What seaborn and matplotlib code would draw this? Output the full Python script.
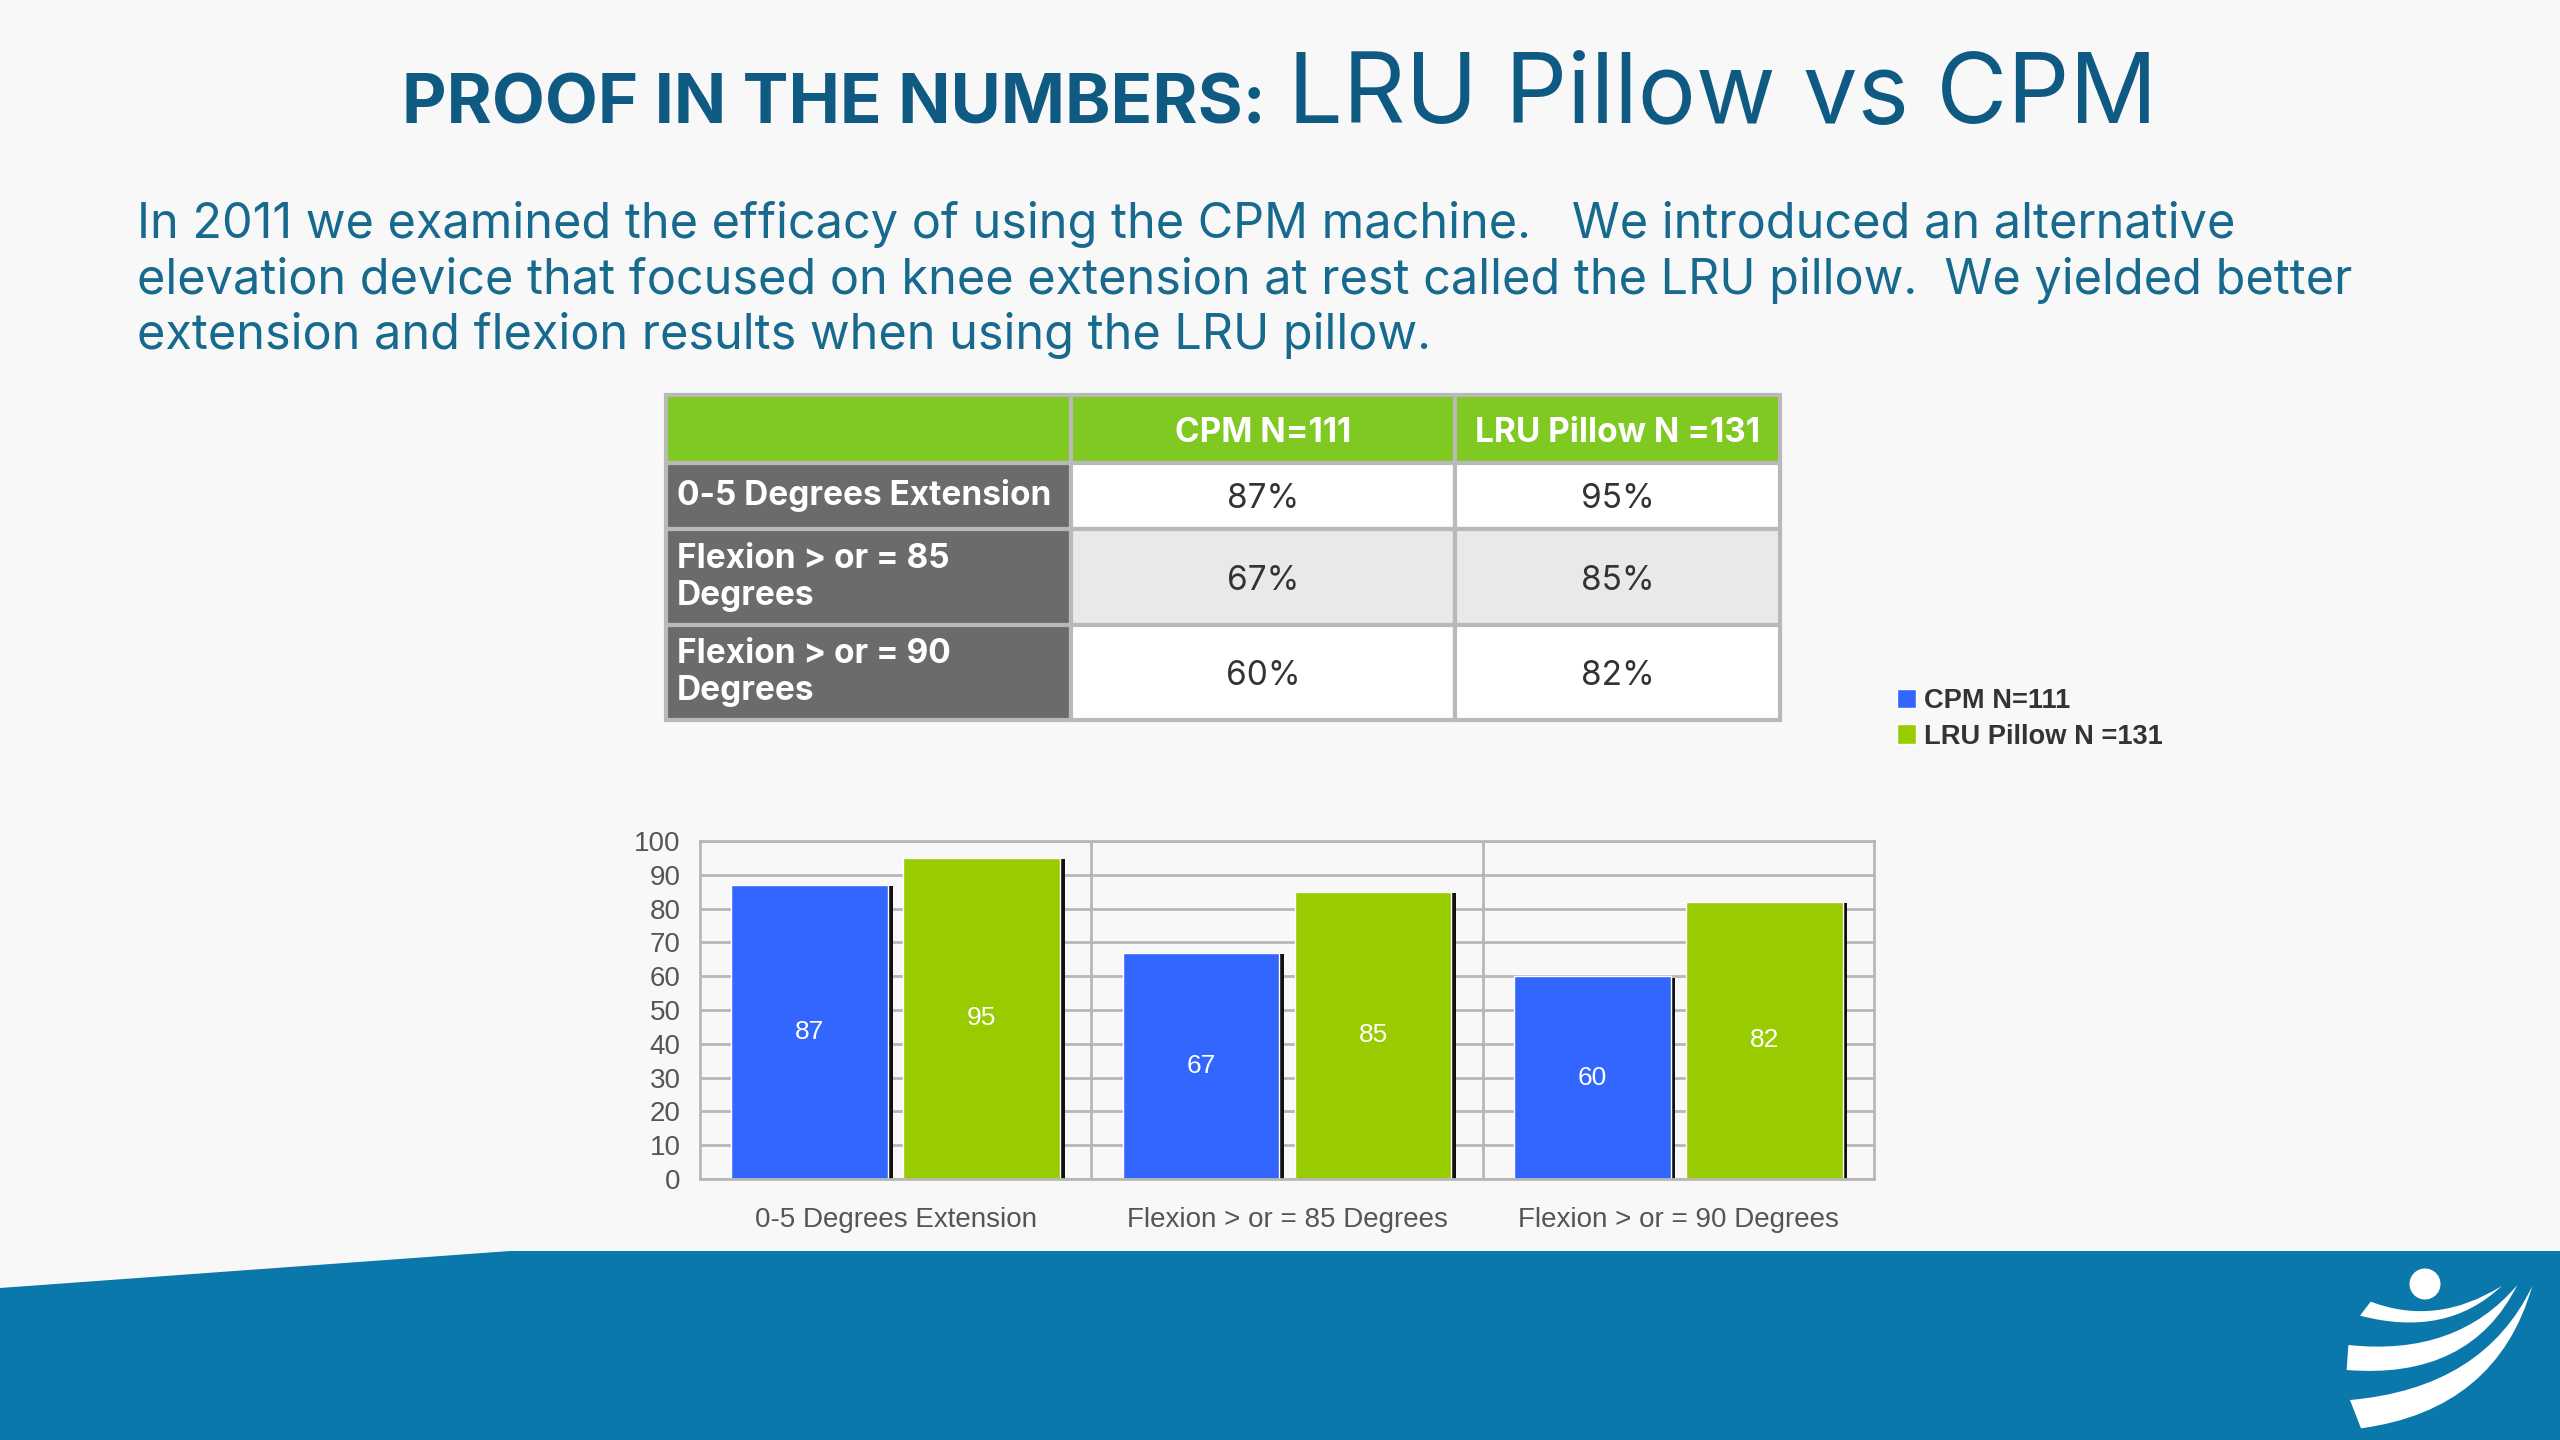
import numpy as np
import pandas as pd
import matplotlib
matplotlib.use('Agg')
import matplotlib.pyplot as plt
import matplotlib.patheffects as pe
from matplotlib.path import Path
from matplotlib.patches import PathPatch, Circle, Polygon
import seaborn as sns

W, H = 2560, 1440
BG = '#f8f8f8'
BAND = '#0a78aa'
TITLE = '#0f5a82'
BODY = '#176a8e'
GRID = '#b7b7b7'

categories = ['0-5 Degrees Extension', 'Flexion > or = 85 Degrees', 'Flexion > or = 90 Degrees']
df = pd.DataFrame({
    'category': categories,
    'CPM N=111': [87, 67, 60],
    'LRU Pillow N =131': [95, 85, 82],
})
long_df = df.melt(id_vars='category', var_name='group', value_name='pct')

sns.set_theme(style='whitegrid')
plt.rcParams['font.family'] = ['Inter', 'DejaVu Sans']

fig = plt.figure(figsize=(W / 100, H / 100), dpi=100, facecolor=BG)

# slide background in pixel coordinates
bg = fig.add_axes([0, 0, 1, 1], zorder=0)
bg.set_xlim(0, W)
bg.set_ylim(H, 0)
bg.axis('off')
bg.add_patch(Polygon([(0, 1288), (510, 1251), (W, 1251), (W, H), (0, H)], color=BAND, lw=0))

bg.text(402, 124, 'PROOF IN THE NUMBERS:', fontsize=49.6, fontweight='bold', color=TITLE, va='baseline')
bg.text(1288, 123, 'LRU Pillow vs CPM', fontsize=70, color=TITLE, va='baseline')

body = ['In 2011 we examined the efficacy of using the CPM machine.   We introduced an alternative',
        'elevation device that focused on knee extension at rest called the LRU pillow.  We yielded better',
        'extension and flexion results when using the LRU pillow.']
for y, line in zip([238, 294, 349], body):
    bg.text(137, y, line, fontsize=35, color=BODY, va='baseline')

# logo
bg.add_patch(Circle((2425, 1284), 15.5, color='white', lw=0))


def swoosh(p0, c0, tip, c1, p1):
    verts = [p0, c0, tip, c1, p1, p0]
    codes = [Path.MOVETO, Path.CURVE3, Path.CURVE3, Path.CURVE3, Path.CURVE3, Path.LINETO]
    pts = [(2280 + x / 3, 1220 + y / 3) for x, y in verts]
    bg.add_patch(PathPatch(Path(pts, codes), facecolor='white', lw=0))


swoosh((272, 245), (470, 320), (665, 198), (500, 355), (240, 287))
swoosh((205, 375), (530, 410), (712, 195), (570, 480), (200, 450))
swoosh((210, 540), (610, 505), (757, 198), (650, 570), (243, 625))

# table
rows = [['', 'CPM N=111', 'LRU Pillow N =131'],
        ['0-5 Degrees Extension', '87%', '95%'],
        ['Flexion > or = 85\nDegrees', '67%', '85%'],
        ['Flexion > or = 90\nDegrees', '60%', '82%']]
t_left, t_right, t_top, t_bottom = 666, 1780, 395, 720
col_edges = [666, 1071, 1455, 1780]
row_edges = [395, 463, 529, 625, 720]
tax = fig.add_axes([t_left / W, 1 - t_bottom / H, (t_right - t_left) / W, (t_bottom - t_top) / H], zorder=1)
tax.axis('off')
table = tax.table(cellText=rows, loc='center', bbox=[0, 0, 1, 1])
table.auto_set_font_size(False)
for (r, c), cell in table.get_celld().items():
    cell.set_width((col_edges[c + 1] - col_edges[c]) / (t_right - t_left))
    cell.set_height((row_edges[r + 1] - row_edges[r]) / (t_bottom - t_top))
    cell.set_edgecolor('#b9b9b9')
    cell.set_linewidth(3)
    txt = cell.get_text()
    txt.set_fontsize(24)
    if r == 0:
        cell.set_facecolor('#80c822')
        txt.set_color('white')
        txt.set_fontweight('bold')
        txt.set_ha('center')
        txt.set_va('center_baseline')
    elif c == 0:
        cell.set_facecolor('#6b6b6b')
        txt.set_color('white')
        txt.set_fontweight('bold')
        txt.set_ha('left')
        txt.set_linespacing(1.2)
        cell.PAD = 0.026
    else:
        cell.set_facecolor('#e9e9e9' if r == 2 else 'white')
        txt.set_color('#333333')
        txt.set_ha('center')
        txt.set_va('center_baseline')
        cell.PAD = 0.0

# bar chart
ax_l, ax_r, ax_t, ax_b = 700, 1874, 841, 1179
ax = fig.add_axes([ax_l / W, 1 - ax_b / H, (ax_r - ax_l) / W, (ax_b - ax_t) / H], zorder=2)
ax.patch.set_alpha(0)
sns.barplot(data=long_df, x='category', y='pct', hue='group', palette=['#3366ff', '#99cc00'],
            width=0.88, gap=0.09, saturation=1, ax=ax)
shadow = [pe.SimplePatchShadow(offset=(3.4, -1), shadow_rgbFace='#111111', alpha=1), pe.Normal()]
for bars in ax.containers:
    for bar in bars:
        bar.set_path_effects(shadow)
    ax.bar_label(bars, label_type='center', color='white', fontsize=19, family='Liberation Sans')

ax.set_xlim(-0.5, 2.5)
ax.set_ylim(0, 100)
ax.set_yticks(range(0, 101, 10))
ax.set_xticks([0.5, 1.5], minor=True)
ax.set_xlabel('')
ax.set_ylabel('')
ax.set_axisbelow(True)
ax.grid(axis='y', color=GRID, lw=2)
ax.grid(axis='x', which='major', visible=False)
ax.grid(axis='x', which='minor', color=GRID, lw=2)
for s in ax.spines.values():
    s.set_color(GRID)
    s.set_linewidth(2)
ax.tick_params(axis='x', which='both', length=0, pad=20)
ax.tick_params(axis='y', length=0, pad=14)
for lab in ax.get_xticklabels() + ax.get_yticklabels():
    lab.set_family('Liberation Sans')
    lab.set_fontsize(20)
    lab.set_color('#555555')

ax.legend(title=None, loc='upper left', frameon=False,
          bbox_to_anchor=((1897 - ax_l) / (ax_r - ax_l), 1 + (ax_t - 688) / (ax_b - ax_t)),
          prop={'family': 'Liberation Sans', 'weight': 'bold', 'size': 19.6}, labelcolor='#333333',
          handlelength=0.7, handleheight=0.7, handletextpad=0.3, labelspacing=0.35,
          borderpad=0, borderaxespad=0)

plt.savefig('out.png', dpi=100, facecolor=BG)
plt.close()
